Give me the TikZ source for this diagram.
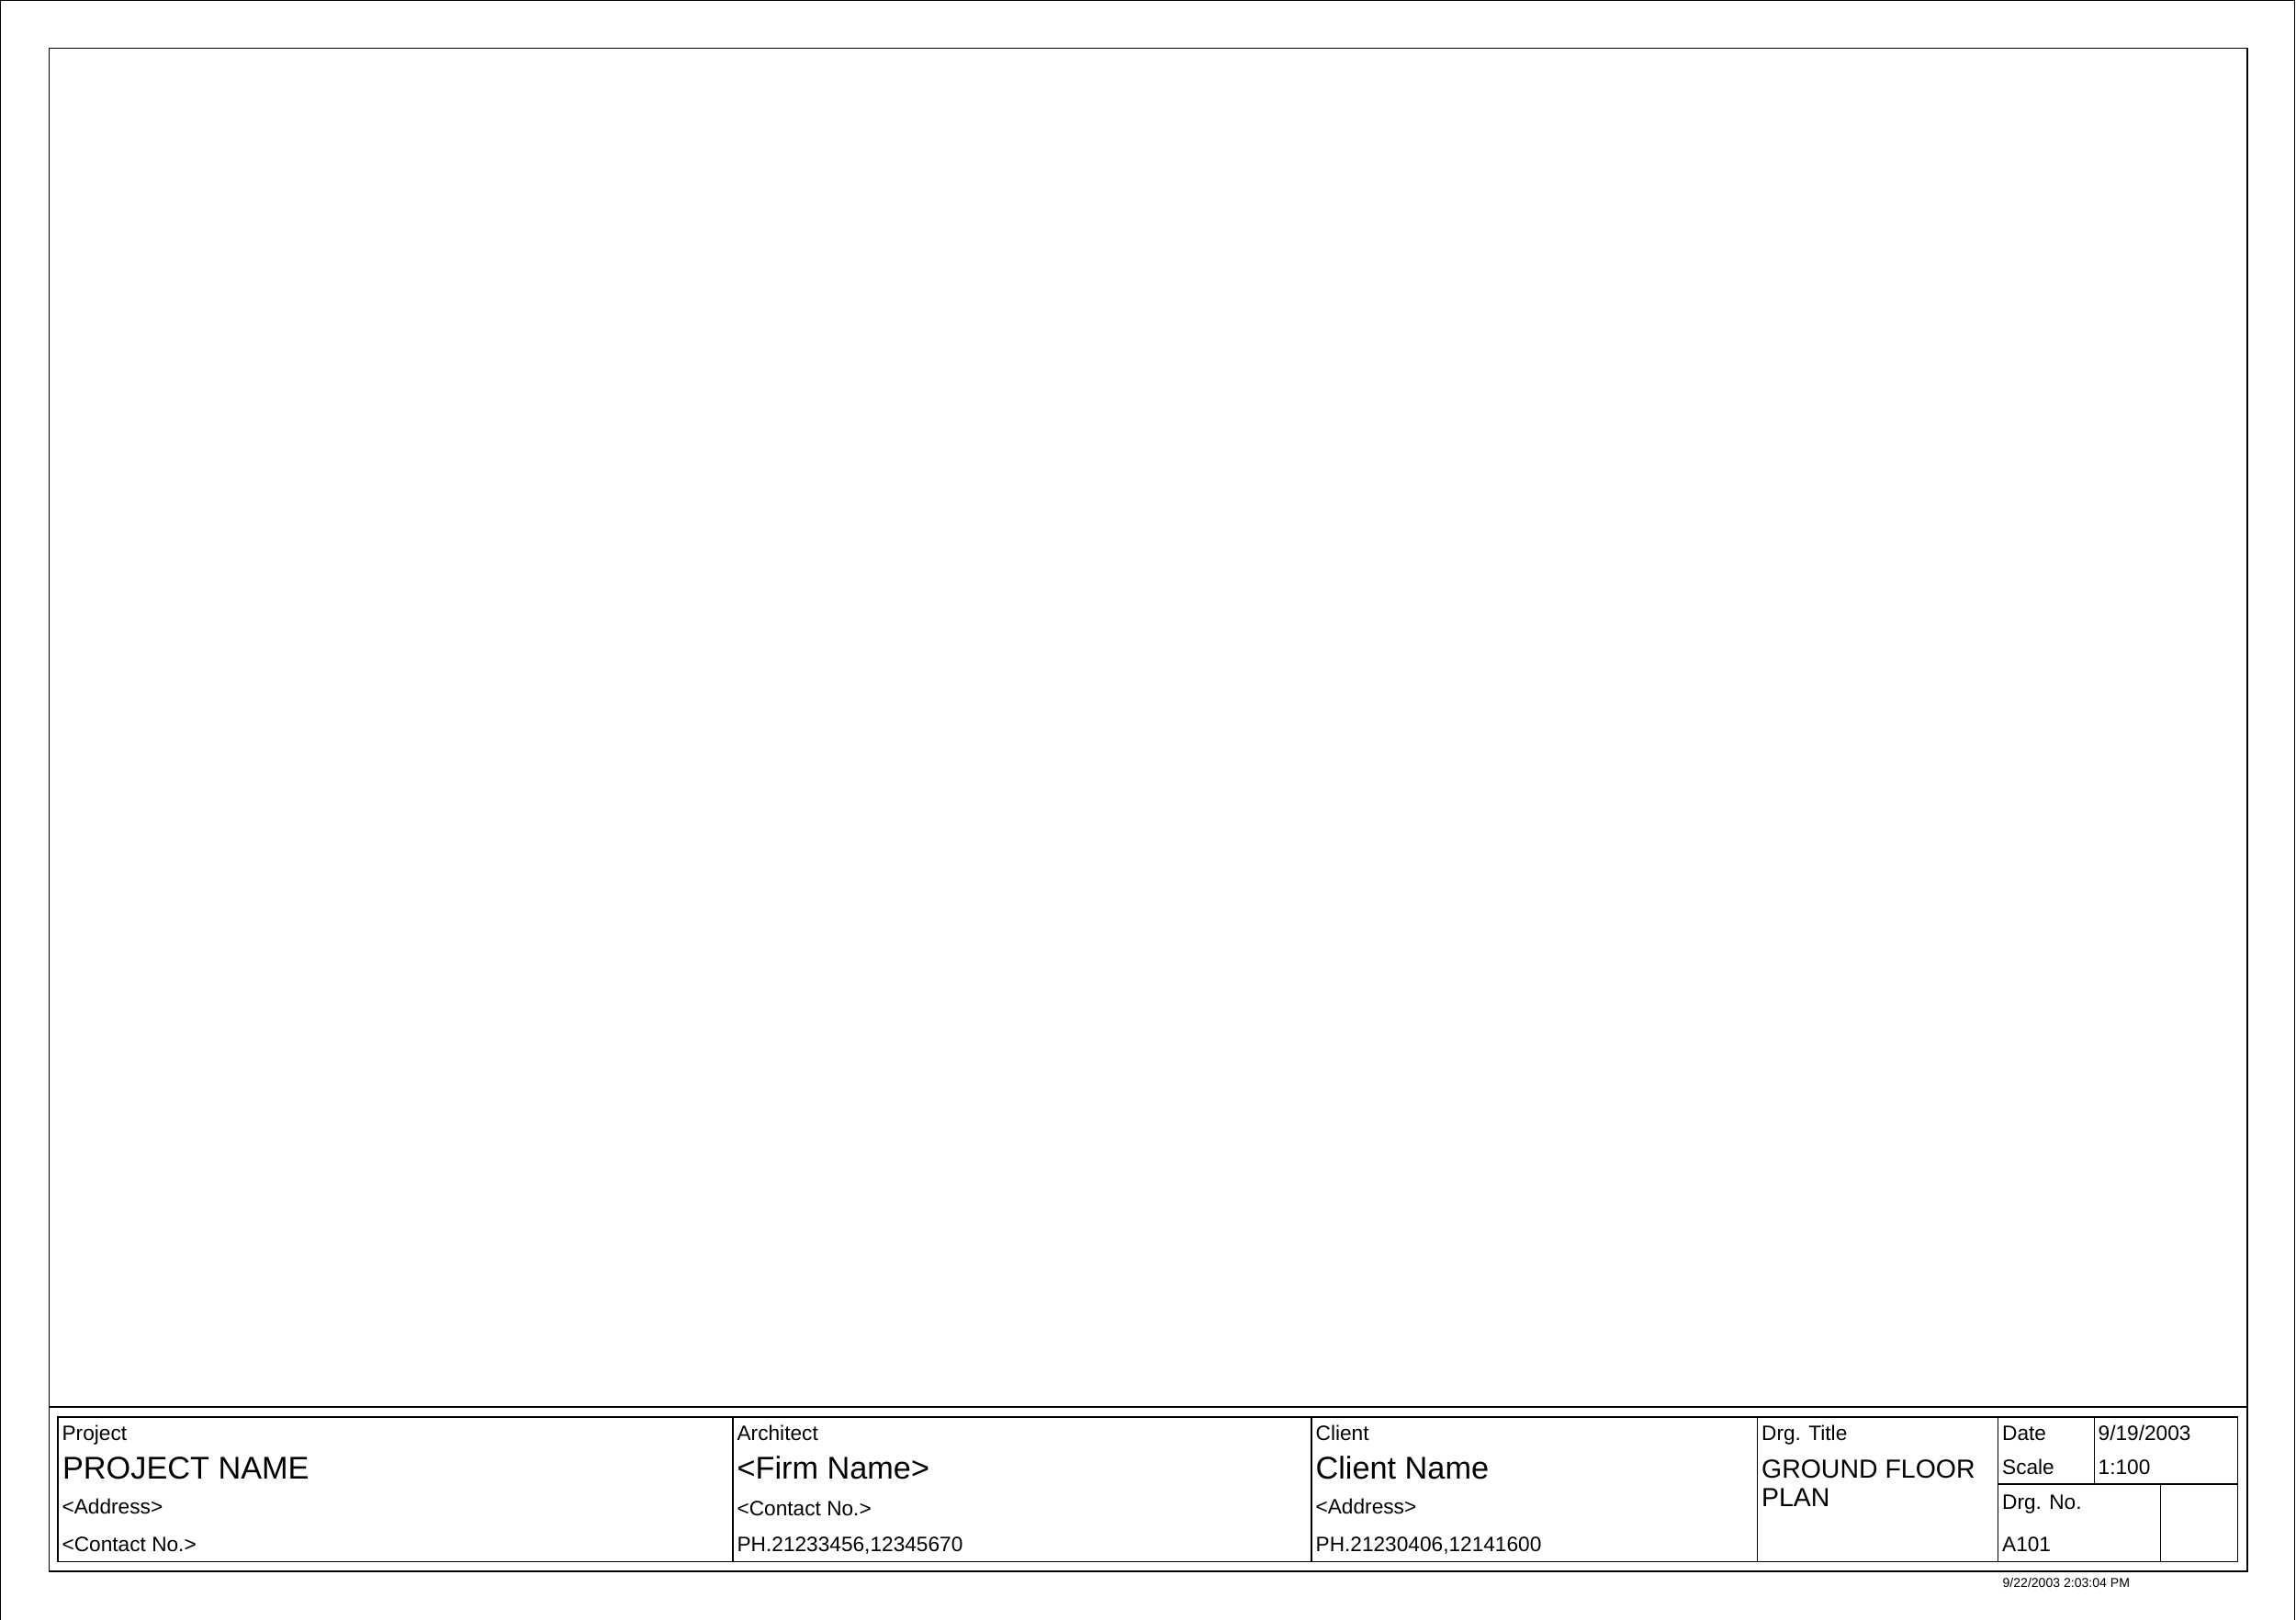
\documentclass[tikz,border=0pt]{standalone}
\usepackage{fontspec}
\setmainfont{Liberation Sans}
\usepackage{tikz}

\tikzset{
    lbl/.style={anchor=base west, inner sep=0pt, font=\fontsize{6.45}{7.7}\selectfont},
    bigval/.style={anchor=base west, inner sep=0pt, font=\fontsize{9.75}{11.7}\selectfont},
    titleval/.style={anchor=base west, inner sep=0pt, font=\fontsize{8.1}{9.7}\selectfont},
    stampval/.style={anchor=base west, inner sep=0pt, font=\fontsize{4}{5}\selectfont}
}

\begin{document}
\begin{tikzpicture}[line width=0.35pt]
    \useasboundingbox (0,0) rectangle (25,17.64);

    % sheet edge and frame
    \draw (0.006,0) -- (0.006,17.634) -- (24.982,17.634) -- (24.982,0);
    \draw (0.533,0.53) rectangle (24.47,17.117);
    \draw (0.533,2.32) -- (24.47,2.32);

    % title block
    \draw (0.63,0.635) rectangle (24.363,2.21);
    \draw (7.98,0.635) -- (7.98,2.21);
    \draw (14.28,0.635) -- (14.28,2.21);
    \draw (19.133,0.635) -- (19.133,2.21);
    \draw (21.755,0.635) -- (21.755,2.21);
    \draw (22.805,1.48) -- (22.805,2.21);
    \draw (21.755,1.48) -- (24.363,1.48);
    \draw (23.524,0.635) -- (23.524,1.48);

    \node[lbl] (project) at (0.67,1.955) {Project};
    \node[bigval] (projname) at (0.675,1.53) {PROJECT NAME};
    \node[lbl] (projaddr) at (0.67,1.15) {<Address>};
    \node[lbl] (projcontact) at (0.67,0.74) {<Contact No.>};

    \node[lbl] (architect) at (8.02,1.955) {Architect};
    \node[bigval] (firmname) at (8.02,1.53) {<Firm Name>};
    \node[lbl] (archcontact) at (8.02,1.135) {<Contact No.>};
    \node[lbl] (archphone) at (8.02,0.74) {PH.21233456,12345670};

    \node[lbl] (client) at (14.32,1.955) {Client};
    \node[bigval] (clientname) at (14.32,1.53) {Client Name};
    \node[lbl] (clientaddr) at (14.32,1.15) {<Address>};
    \node[lbl] (clientphone) at (14.32,0.74) {PH.21230406,12141600};

    \node[lbl] (drgtitle) at (19.175,1.955) {Drg. Title};
    \node[titleval] (ground) at (19.175,1.545) {GROUND FLOOR};
    \node[titleval] (plan) at (19.175,1.23) {PLAN};

    \node[lbl] (date) at (21.795,1.953) {Date};
    \node[lbl] (dateval) at (22.84,1.953) {9/19/2003};
    \node[lbl] (scalelbl) at (21.795,1.58) {Scale};
    \node[lbl] (scaleval) at (22.84,1.58) {1:100};
    \node[lbl] (drgno) at (21.795,1.203) {Drg. No.};
    \node[lbl] (drgnoval) at (21.795,0.745) {A101};

    \node[stampval] (stamp) at (21.8,0.355) {9/22/2003 2:03:04 PM};
\end{tikzpicture}
\end{document}
